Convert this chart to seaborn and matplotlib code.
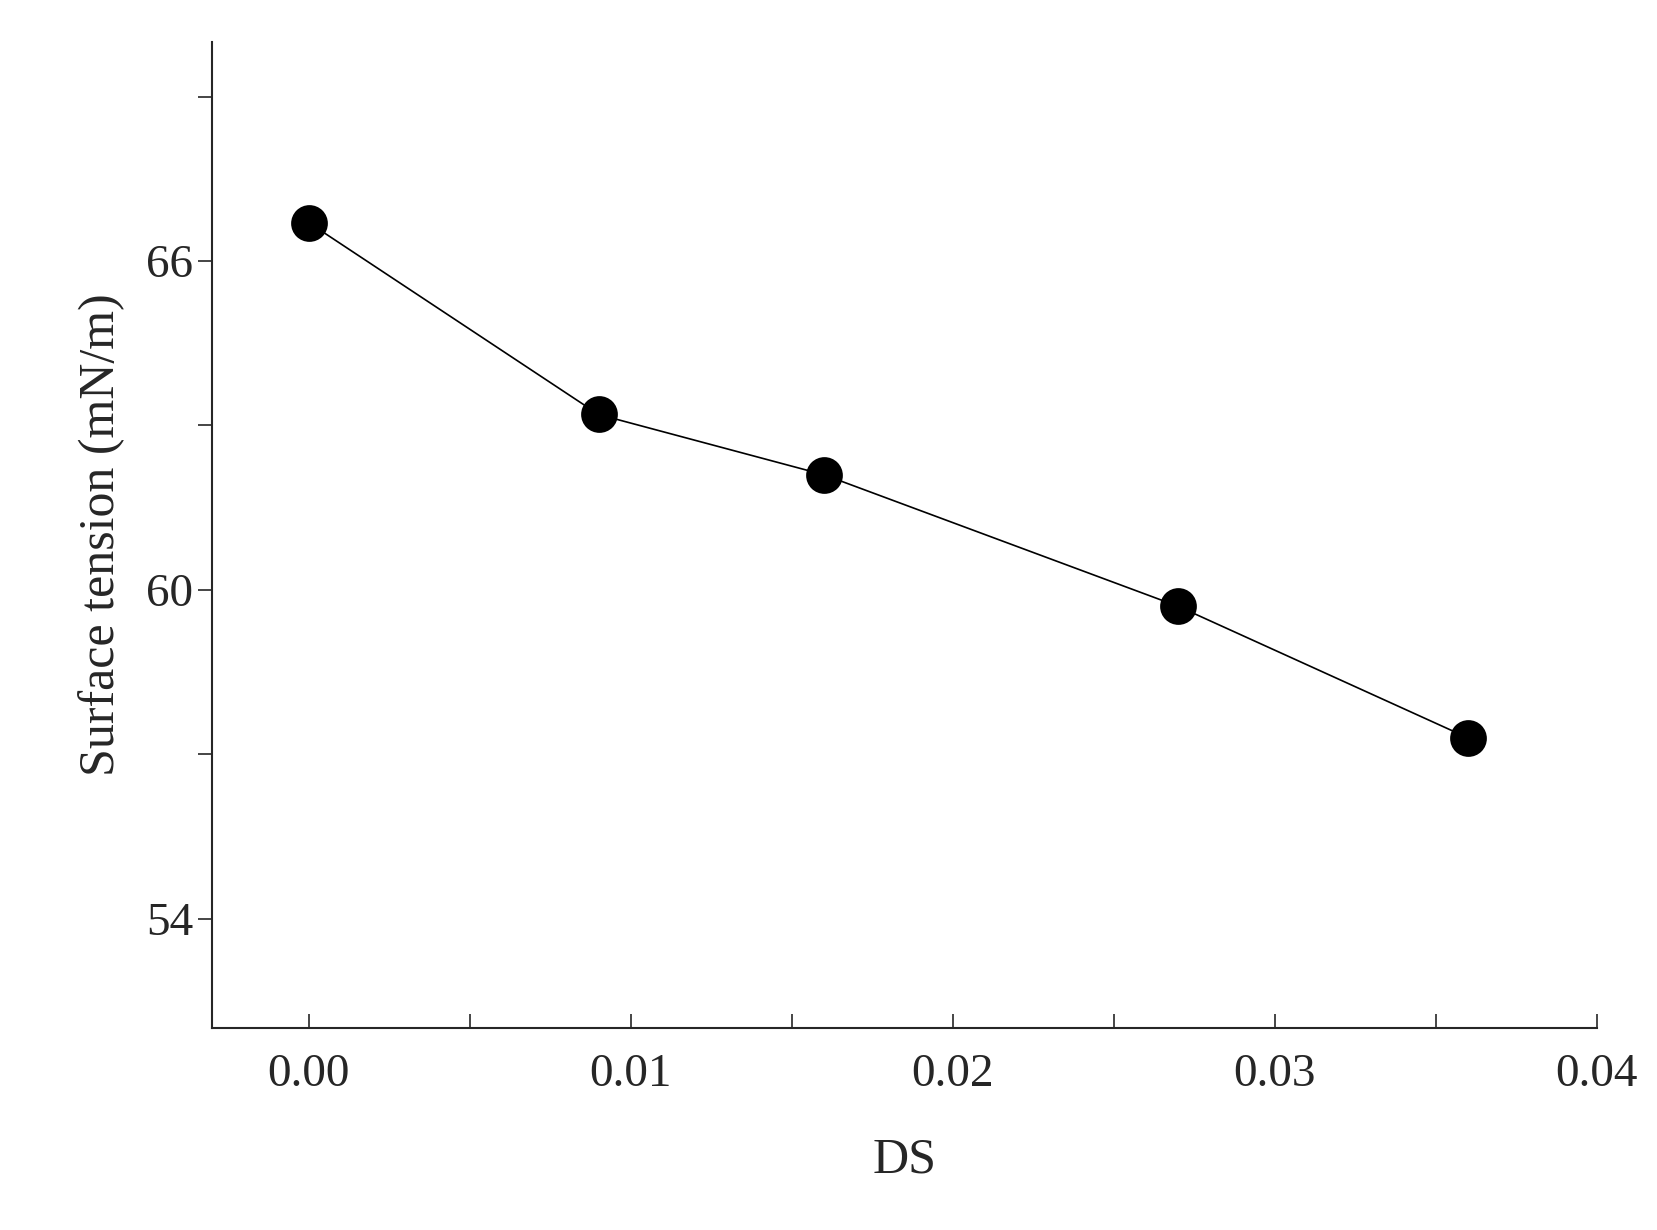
import matplotlib
matplotlib.use("Agg")
import matplotlib.pyplot as plt
import seaborn as sb
import pandas as pd
from matplotlib.ticker import MultipleLocator

# Данные
ds = [0.000, 0.009, 0.016, 0.027, 0.036]
tension = [66.7, 63.2, 62.1, 59.7, 57.3]
df = pd.DataFrame({"DS": ds, "tension": tension})

sb.set_style("ticks")
plt.rcParams["font.family"] = ["Liberation Serif", "DejaVu Serif"]

fig = plt.figure(figsize=(16.58, 12.3), dpi=100)
ax = fig.add_axes([0.128, 0.164, 0.835, 0.802])

sb.lineplot(data=df, x="DS", y="tension", color="black", linewidth=1.2, ax=ax)
sb.scatterplot(data=df, x="DS", y="tension", color="black", s=600, edgecolor="black", zorder=3, ax=ax)

ax.set_xlim(-0.003, 0.04)
ax.set_ylim(52, 70)
ax.xaxis.set_major_locator(MultipleLocator(0.01))
ax.xaxis.set_minor_locator(MultipleLocator(0.005))
ax.set_yticks([54, 60, 66])
ax.yaxis.set_minor_locator(MultipleLocator(3))
ax.xaxis.set_major_formatter(matplotlib.ticker.FormatStrFormatter("%.2f"))
ax.tick_params(axis="both", which="both", direction="in", labelsize=34, length=10, width=1.2)
ax.tick_params(axis="y", which="both", direction="out")
ax.tick_params(axis="x", pad=18)
ax.set_xlabel("DS", fontsize=36, labelpad=30)
ax.set_ylabel("Surface tension (mN/m)", fontsize=36, labelpad=15)
for s in ["left", "bottom"]:
    ax.spines[s].set_linewidth(1.5)
sb.despine(ax=ax)

fig.savefig("out.png", dpi=100, facecolor="white")
